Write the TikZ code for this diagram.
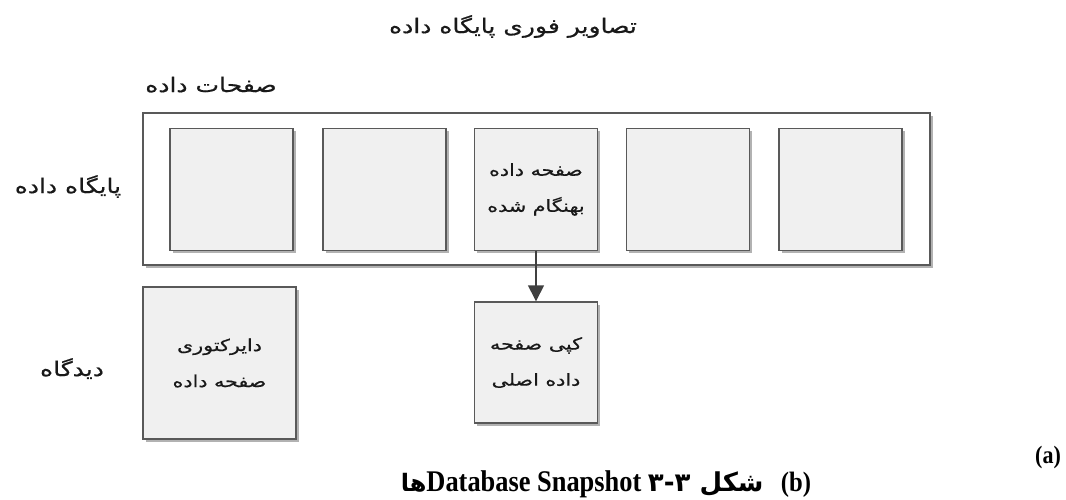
\documentclass[tikz,border=0pt]{standalone}
\usepackage{fontspec}
\setmainfont{Liberation Serif}
\newfontfamily\fa[Script=Arabic,FakeStretch=1.25,FakeBold=0.6]{DejaVu Sans}
\newfontfamily\fabold[Script=Arabic]{DejaVu Sans}
\newfontfamily\capfont[FakeStretch=0.88]{Liberation Serif}
\TeXXeTstate=1
\usetikzlibrary{arrows.meta}
\usetikzlibrary{positioning,shadows}
\definecolor{pagefill}{HTML}{F0F0F0}
\definecolor{edgegray}{HTML}{595959}
\tikzset{
    page/.style={
        draw=edgegray,
        fill=pagefill,
        line width=1.4pt,
        inner sep=0pt,
        minimum width=123pt,
        minimum height=122pt,
        align=center,
        text=black!90,
        font=\fa\fontsize{16.5}{36}\selectfont,
        drop shadow={shadow xshift=2.5pt, shadow yshift=-2.5pt, fill=black, opacity=0.3}
    },
    lbl/.style={
        anchor=base,
        text=black!90,
        font=\fa\fontsize{20}{22}\selectfont
    }
}

\begin{document}
\begin{tikzpicture}[x=1pt,y=-1pt]
    \useasboundingbox (0,0) rectangle (1066,499);
    % database frame
    \node[draw=edgegray, fill=white, line width=1.4pt, minimum width=787pt, minimum height=152pt,
          drop shadow={shadow xshift=2.5pt, shadow yshift=-2.5pt, fill=black, opacity=0.3}] (db) at (536.5,189) {};
    \foreach \i/\x in {1/231.5, 2/384.5, 4/688, 5/840.5}
        \node[page] (p\i) at (\x,189.5) {};
    \node[page] (p3) at (536,189.5) {\beginR صفحه داده\endR\\\beginR بهنگام شده\endR};

    % snapshot side
    \node[page, minimum width=153pt, minimum height=152pt] (dir) at (219.5,363) {\beginR دایرکتوری\endR\\\beginR صفحه داده\endR};
    \node[page, minimum height=121pt] (copy) at (536,362.5) {\beginR کپی صفحه\endR\\\beginR داده اصلی\endR};
    \draw[-{Triangle[length=16pt, width=16pt]}, draw=black!75, fill=black!75, line width=1.4pt] (p3) -- (copy);

    % labels
    \node[lbl] (title) at (513,33) {\beginR تصاویر فوری پایگاه داده\endR};
    \node[lbl] (pages) at (211,92) {\beginR صفحات داده\endR};
    \node[lbl] (dbl) at (68,193) {\beginR پایگاه داده\endR};
    \node[lbl] (view) at (72,376) {\beginR دیدگاه\endR};

    % caption
    \node[anchor=base east, font=\capfont\fontsize{30}{30}\selectfont\bfseries] (cap) at (767,491)
        {\beginR{\fabold\bfseries\fontsize{26}{30}\selectfont شکل ۳-۳} \beginL Database Snapshot\endL{}{\fabold\bfseries\fontsize{24}{30}\selectfont ها}\endR};
    \node[anchor=base, font=\capfont\fontsize{28}{30}\selectfont\bfseries] (b) at (796,491) {(b)};
    \node[anchor=base, font=\capfont\fontsize{25}{30}\selectfont\bfseries] (a) at (1048,463) {(a)};
\end{tikzpicture}
\end{document}
